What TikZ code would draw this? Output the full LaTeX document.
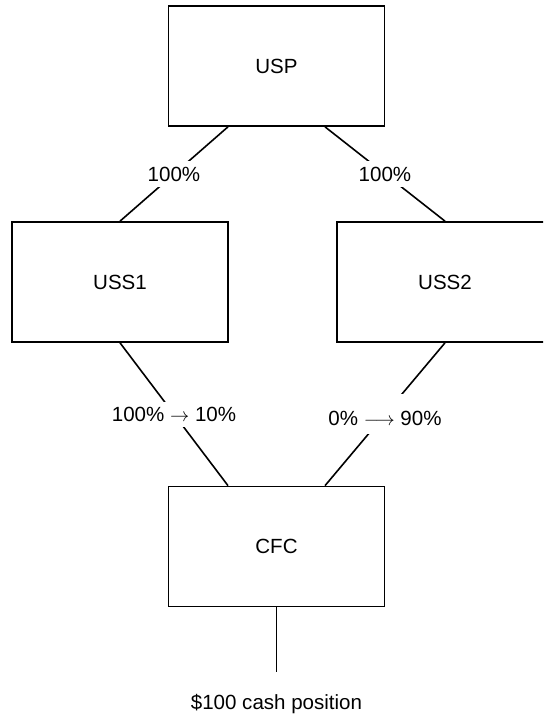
\documentclass[tikz,border=0pt]{standalone}
\usepackage{fontspec}
\setmainfont{Liberation Sans}
\usetikzlibrary{calc}
\begin{document}
\begin{tikzpicture}[x=0.75pt,y=-0.75pt,
  entity/.style={draw, line width=1.25pt, minimum width=162pt, minimum height=90pt,
    inner sep=0pt, font=\fontsize{15.4}{18}\selectfont},
  link/.style={line width=1.2pt},
  share/.style={fill=white, inner sep=4pt, font=\fontsize{15.4}{18}\selectfont},
  caption/.style={inner sep=0pt, font=\fontsize{15.4}{18}\selectfont}]
\useasboundingbox (0,0) rectangle (543,717);
\clip (0,0) rectangle (543,717);

% entities
\node[entity] (usp)  at (276.5,66)  {USP};
\node[entity] (uss1) at (120,282)   {USS1};
\node[entity] (uss2) at (445,282)   {USS2};
\node[entity] (cfc)  at (276.5,546.5) {CFC};

% ownership links
\draw[link] ($(usp.south)+(-48.5,0)$) -- node[share] (l1) {100\%} (uss1.north);
\draw[link] ($(usp.south)+(48.5,0)$) -- node[share] (l2) {100\%} (uss2.north);
\draw[link] (uss1.south) -- node[share] (l3) {100\% $\rightarrow$ 10\%} ($(cfc.north)+(-48.5,0)$);
\draw[link] (uss2.south) -- node[share, text height=19.6pt, text depth=2.5pt] (l4)
  {0\% $\longrightarrow$ 90\%} ($(cfc.north)+(48.5,0)$);

% cash held by the CFC
\coordinate (cashend) at (276.5,672);
\draw[link] (cfc.south) -- (cashend);
\node[caption, anchor=base] (cash) at (276.5,709) {\$100 cash position};
\end{tikzpicture}
\end{document}
